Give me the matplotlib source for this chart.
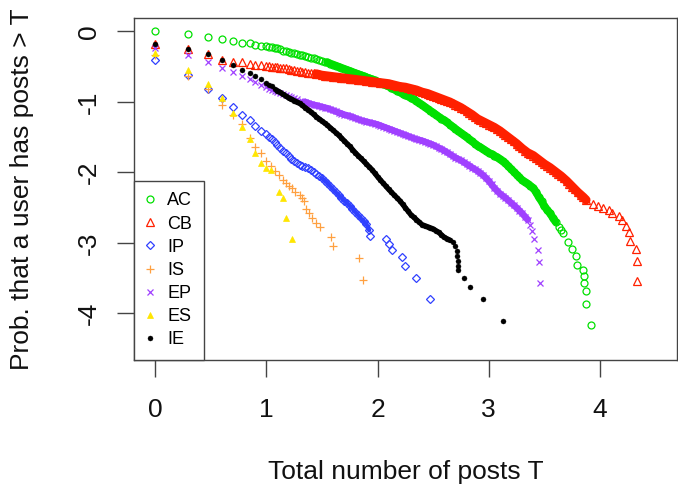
import matplotlib
matplotlib.use("Agg")
import matplotlib.pyplot as plt

plt.rcParams['font.family'] = ['Liberation Sans', 'DejaVu Sans']

# ---------------- data (log10 values) ----------------
# x positions of the first (discrete) posts counts: log10 of 1..9 posts
x_head = [0.00, 0.30, 0.48, 0.60, 0.70, 0.78, 0.85, 0.90, 0.95]
# x sample positions along the dense part of the curves
x_grid = [1.000, 1.025, 1.050, 1.075, 1.100, 1.125, 1.150, 1.175, 1.200, 1.225,
          1.250, 1.275, 1.300, 1.325, 1.350, 1.375, 1.400, 1.425, 1.450, 1.475,
          1.500, 1.525, 1.550, 1.575, 1.600, 1.625, 1.650, 1.675, 1.700, 1.725,
          1.750, 1.775, 1.800, 1.825, 1.850, 1.875, 1.900, 1.925, 1.950, 1.975,
          2.000, 2.025, 2.050, 2.075, 2.100, 2.125, 2.150, 2.175, 2.200, 2.225,
          2.250, 2.275, 2.300, 2.325, 2.350, 2.375, 2.400, 2.425, 2.450, 2.475,
          2.500, 2.525, 2.550, 2.575, 2.600, 2.625, 2.650, 2.675, 2.700, 2.725,
          2.750, 2.775, 2.800, 2.825, 2.850, 2.875, 2.900, 2.925, 2.950, 2.975,
          3.000, 3.025, 3.050, 3.075, 3.100, 3.125, 3.150, 3.175, 3.200, 3.225,
          3.250, 3.275, 3.300, 3.325, 3.350, 3.375, 3.400, 3.425, 3.450, 3.475,
          3.500, 3.525, 3.550, 3.575, 3.600, 3.625, 3.650, 3.675, 3.700, 3.725,
          3.750, 3.775, 3.800, 3.825, 3.850, 3.875]

# AC
y_ac_head = [0.00, -0.04, -0.075, -0.10, -0.14, -0.16, -0.17, -0.19, -0.20]
y_ac_body = [-0.210, -0.215, -0.220, -0.230, -0.240, -0.255, -0.270, -0.280, -0.290, -0.300,
             -0.310, -0.320, -0.330, -0.340, -0.350, -0.360, -0.370, -0.380, -0.390, -0.405,
             -0.420, -0.430, -0.440, -0.455, -0.470, -0.485, -0.500, -0.515, -0.530, -0.545,
             -0.560, -0.575, -0.590, -0.605, -0.620, -0.635, -0.650, -0.665, -0.680, -0.695,
             -0.710, -0.725, -0.740, -0.760, -0.780, -0.800, -0.820, -0.840, -0.860, -0.880,
             -0.900, -0.920, -0.940, -0.965, -0.990, -1.015, -1.040, -1.070, -1.100, -1.125,
             -1.150, -1.180, -1.210, -1.235, -1.260, -1.290, -1.320, -1.350, -1.380, -1.410,
             -1.440, -1.470, -1.500, -1.530, -1.560, -1.590, -1.620, -1.645, -1.670, -1.695,
             -1.720, -1.740, -1.760, -1.785, -1.810, -1.840, -1.870, -1.910, -1.950, -1.990,
             -2.030, -2.070, -2.110, -2.135, -2.160, -2.190, -2.220, -2.280, -2.350, -2.410,
             -2.480, -2.530, -2.580, -2.640, -2.700]
x_ac_tail = [3.63, 3.65, 3.67, 3.71, 3.75, 3.78, 3.79, 3.85, 3.86, 3.86, 3.87, 3.87, 3.92]
y_ac_tail = [-2.78, -2.82, -2.86, -2.99, -3.08, -3.19, -3.31, -3.38, -3.47, -3.57, -3.68, -3.86, -4.17]

# CB
y_cb_head = [-0.18, -0.25, -0.32, -0.40, -0.43, -0.44, -0.46, -0.47, -0.48]
y_cb_body = [-0.490, -0.495, -0.500, -0.505, -0.510, -0.515, -0.520, -0.525, -0.530, -0.540,
             -0.550, -0.555, -0.560, -0.570, -0.580, -0.585, -0.590, -0.595, -0.600, -0.610,
             -0.620, -0.625, -0.630, -0.635, -0.640, -0.645, -0.650, -0.655, -0.660, -0.665,
             -0.670, -0.675, -0.680, -0.685, -0.690, -0.695, -0.700, -0.705, -0.710, -0.715,
             -0.720, -0.725, -0.730, -0.735, -0.740, -0.750, -0.760, -0.770, -0.780, -0.785,
             -0.790, -0.800, -0.810, -0.820, -0.830, -0.845, -0.860, -0.870, -0.880, -0.895,
             -0.910, -0.925, -0.940, -0.955, -0.970, -0.985, -1.000, -1.020, -1.040, -1.060,
             -1.080, -1.105, -1.130, -1.155, -1.180, -1.210, -1.240, -1.260, -1.280, -1.300,
             -1.320, -1.340, -1.360, -1.385, -1.410, -1.440, -1.470, -1.500, -1.530, -1.560,
             -1.590, -1.625, -1.660, -1.690, -1.720, -1.740, -1.760, -1.790, -1.820, -1.850,
             -1.880, -1.905, -1.930, -1.960, -1.990, -2.020, -2.050, -2.085, -2.120, -2.160,
             -2.200, -2.240, -2.280, -2.315, -2.350, -2.390]
x_cb_tail = [3.94, 3.98, 4.03, 4.08, 4.11, 4.17, 4.20, 4.23, 4.26, 4.27, 4.32, 4.33, 4.33]
y_cb_tail = [-2.45, -2.47, -2.50, -2.53, -2.57, -2.62, -2.67, -2.76, -2.85, -2.97, -3.09, -3.26, -3.54]

# IP
y_ip_head = [-0.40, -0.62, -0.82, -0.95, -1.07, -1.18, -1.25, -1.34, -1.41]
y_ip_body = [-1.460, -1.495, -1.530, -1.570, -1.610, -1.650, -1.690, -1.730, -1.770, -1.805,
             -1.840, -1.870, -1.900, -1.910, -1.920, -1.940, -1.960, -1.990, -2.020, -2.050,
             -2.080, -2.115, -2.150, -2.195, -2.240, -2.280, -2.320, -2.360, -2.400, -2.435,
             -2.470, -2.515, -2.560, -2.605, -2.650, -2.690, -2.730, -2.820]
x_ip_tail = [1.93, 2.08, 2.10, 2.13, 2.22, 2.25, 2.35, 2.47]
y_ip_tail = [-2.90, -2.95, -3.02, -3.10, -3.20, -3.33, -3.49, -3.79]

# IS
x_is = [0.00, 0.30, 0.48, 0.60, 0.70, 0.78, 0.85, 0.90, 0.95,
        1.00, 1.04, 1.08, 1.11, 1.15, 1.18, 1.20, 1.23, 1.26, 1.30, 1.32, 1.34, 1.36, 1.38,
        1.41, 1.45, 1.48, 1.58, 1.60, 1.83, 1.87]
y_is = [-0.34, -0.63, -0.82, -1.04, -1.18, -1.31, -1.51, -1.64, -1.73,
        -1.84, -1.91, -1.98, -2.04, -2.10, -2.15, -2.19, -2.22, -2.27, -2.32, -2.36, -2.41, -2.52, -2.57,
        -2.65, -2.72, -2.77, -2.91, -3.05, -3.22, -3.52]

# EP
y_ep_head = [-0.23, -0.33, -0.43, -0.52, -0.58, -0.63, -0.68, -0.72, -0.76]
y_ep_body = [-0.790, -0.810, -0.830, -0.845, -0.860, -0.875, -0.890, -0.905, -0.920, -0.935,
             -0.950, -0.965, -0.980, -0.990, -1.000, -1.015, -1.030, -1.040, -1.050, -1.060,
             -1.070, -1.080, -1.090, -1.105, -1.120, -1.135, -1.150, -1.165, -1.180, -1.190,
             -1.200, -1.215, -1.230, -1.245, -1.260, -1.270, -1.280, -1.290, -1.300, -1.310,
             -1.320, -1.335, -1.350, -1.365, -1.380, -1.395, -1.410, -1.425, -1.440, -1.455,
             -1.470, -1.485, -1.500, -1.515, -1.530, -1.540, -1.550, -1.565, -1.580, -1.595,
             -1.610, -1.630, -1.650, -1.670, -1.690, -1.715, -1.740, -1.765, -1.790, -1.810,
             -1.830, -1.855, -1.880, -1.905, -1.930, -1.955, -1.980, -2.010, -2.040, -2.080,
             -2.120, -2.170, -2.220, -2.260, -2.300, -2.330, -2.360, -2.395, -2.430, -2.465,
             -2.500, -2.540, -2.580, -2.625, -2.670]
x_ep_tail = [3.37, 3.39, 3.41, 3.44, 3.45, 3.46]
y_ep_tail = [-2.75, -2.83, -2.95, -3.10, -3.27, -3.57]

# ES
x_es = [0.00, 0.30, 0.48, 0.60, 0.70, 0.78, 0.85, 0.90, 0.95, 1.00, 1.04, 1.11, 1.15, 1.18, 1.23]
y_es = [-0.30, -0.55, -0.74, -0.94, -1.16, -1.36, -1.52, -1.73, -1.87, -1.93, -1.97, -2.27, -2.36, -2.65, -2.95]

# IE
y_ie_head = [-0.18, -0.25, -0.32, -0.41, -0.48, -0.54, -0.59, -0.63, -0.68]
y_ie_body = [-0.730, -0.755, -0.780, -0.810, -0.840, -0.865, -0.890, -0.915, -0.940, -0.960,
             -0.980, -1.000, -1.020, -1.050, -1.080, -1.110, -1.140, -1.175, -1.210, -1.240,
             -1.270, -1.300, -1.330, -1.365, -1.400, -1.435, -1.470, -1.510, -1.550, -1.590,
             -1.630, -1.675, -1.720, -1.760, -1.800, -1.840, -1.880, -1.920, -1.960, -2.010,
             -2.060, -2.105, -2.150, -2.195, -2.240, -2.280, -2.320, -2.360, -2.400, -2.450,
             -2.500, -2.550, -2.600, -2.635, -2.670, -2.705, -2.740, -2.755, -2.770, -2.785,
             -2.800, -2.825, -2.850, -2.885, -2.920, -2.940, -2.960]
x_ie_tail = [2.68, 2.70, 2.71, 2.71, 2.72, 2.72, 2.72, 2.78, 2.83, 2.95, 3.13]
y_ie_tail = [-2.98, -3.05, -3.12, -3.19, -3.25, -3.32, -3.38, -3.50, -3.62, -3.79, -4.10]

labels = ["AC", "CB", "IP", "IS", "EP", "ES", "IE"]
x_ticks = [0, 1, 2, 3, 4]
x_ticklabels = ["0", "1", "2", "3", "4"]
y_ticks = [0, -1, -2, -3, -4]
y_ticklabels = ["0", "-1", "-2", "-3", "-4"]


def assemble(y_head, y_body, x_tail, y_tail):
    xs = x_head + x_grid[:len(y_body)] + x_tail
    ys = y_head + y_body + y_tail
    return xs, ys


x_ac, y_ac = assemble(y_ac_head, y_ac_body, x_ac_tail, y_ac_tail)
x_cb, y_cb = assemble(y_cb_head, y_cb_body, x_cb_tail, y_cb_tail)
x_ip, y_ip = assemble(y_ip_head, y_ip_body, x_ip_tail, y_ip_tail)
x_ep, y_ep = assemble(y_ep_head, y_ep_body, x_ep_tail, y_ep_tail)
x_ie, y_ie = assemble(y_ie_head, y_ie_body, x_ie_tail, y_ie_tail)

# ---------------- styling ----------------
# (xs, ys, marker style, dense-band part as (body, first grid index), band width in pt)
series = [
    (x_ac, y_ac, dict(marker='o', color='#00E000', mfc='none', ms=5.0, mew=0.9),
     (y_ac_body, 22), 5.6),
    (x_cb, y_cb, dict(marker='^', color='#FF2000', mfc='none', ms=5.5, mew=0.9),
     (y_cb_body, 18), 6.4),
    (x_ip, y_ip, dict(marker='D', color='#3040FF', mfc='none', ms=4.2, mew=0.9),
     (y_ip_body, 20), 3.0),
    (x_is, y_is, dict(marker='+', color='#FFA040', ms=6.0, mew=0.9), None, 0),
    (x_ep, y_ep, dict(marker='x', color='#A040FF', ms=4.2, mew=0.9),
     (y_ep_body, 14), 4.8),
    (x_es, y_es, dict(marker='^', color='#FFE600', mfc='#FFE600', ms=5.0, mew=0.5), None, 0),
    (x_ie, y_ie, dict(marker='o', color='black', mfc='black', ms=3.6, mew=0.3),
     (y_ie_body, 4), 3.8),
]

fig = plt.figure(figsize=(6.78, 4.93), dpi=100)
W, H = 678, 493
left, right, top, bottom = 134, 677, 18, 360
ax = fig.add_axes([left / W, 1 - bottom / H, (right - left) / W, (bottom - top) / H])

for (xs, ys, kw, band, bw), lab in zip(series, labels):
    if band is not None:
        body, i0 = band
        bx = x_grid[:len(body)][i0:]
        by = body[i0:]
        ax.plot(bx, by, ls='-', lw=bw, color=kw['color'], solid_capstyle='round',
                solid_joinstyle='round')
    ax.plot(xs, ys, ls='none', label=lab, **kw)

ax.set_xlim(-0.189, 4.692)
ax.set_ylim(-4.66, 0.191)

ax.set_xticks(x_ticks)
ax.set_xticklabels(x_ticklabels)
ax.set_yticks(y_ticks)
ax.set_yticklabels(y_ticklabels, rotation=90, va='center')

spine_col = '#444444'
for s in ax.spines.values():
    s.set_color(spine_col)
    s.set_linewidth(1.0)
ax.tick_params(axis='both', direction='out', length=12.5, width=1.0, color=spine_col,
               labelsize=19, labelcolor='#111111')
ax.tick_params(axis='x', pad=15)
ax.tick_params(axis='y', pad=11)

ax.set_xlabel("Total number of posts T", fontsize=19, color='#111111')
ax.xaxis.label.set_va('center')
ax.xaxis.set_label_coords(0.5, (bottom - 472) / (bottom - top))
ax.set_ylabel("Prob. that a user has posts > T", fontsize=19, color='#111111')
ax.yaxis.label.set_va('center')
ax.yaxis.set_label_coords((22 - left) / (right - left), 0.5)

leg = ax.legend(loc='lower left', bbox_to_anchor=(0, 0), borderaxespad=0, fontsize=13,
                fancybox=False, edgecolor=spine_col, framealpha=1, numpoints=1,
                handlelength=0.5, handletextpad=0.7, labelspacing=0.34, borderpad=0.65)
leg.get_frame().set_linewidth(1.0)

fig.savefig("out.png", dpi=100)
